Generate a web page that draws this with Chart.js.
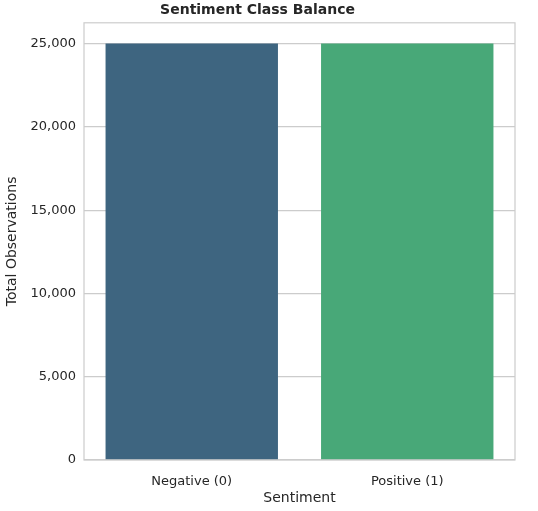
<!DOCTYPE html>
<html>
<head>
<script src="https://cdn.jsdelivr.net/npm/chart.js@4"></script>
<style>
  body { margin: 0; background: #fff; }
  #wrap { width: 538px; height: 511px; }
</style>
</head>
<body>
<div id="wrap"><canvas id="chart"></canvas></div>
<script>
// class counts
const categories = ["Negative (0)", "Positive (1)"];
const counts = [25000, 25000];
const barColors = ["#3e6580", "#48a878"];
const yTicks = [0, 5000, 10000, 15000, 20000, 25000];

const frame = {
  id: "frame",
  afterDraw(chart) {
    const a = chart.chartArea, c = chart.ctx;
    c.save();
    c.strokeStyle = "#cccccc";
    c.lineWidth = 1.2;
    c.strokeRect(a.left, a.top, a.right - a.left, a.bottom - a.top);
    c.restore();
  }
};

Chart.defaults.font.family = "'DejaVu Sans', Arial, sans-serif";
Chart.defaults.color = "#262626";

new Chart(document.getElementById("chart"), {
  type: "bar",
  data: {
    labels: categories,
    datasets: [{
      data: counts,
      backgroundColor: barColors,
      barPercentage: 0.8,
      categoryPercentage: 1
    }]
  },
  options: {
    responsive: true,
    maintainAspectRatio: false,
    animation: false,
    layout: { padding: { left: 0, right: 23, top: 0, bottom: 0 } },
    plugins: {
      legend: { display: false },
      tooltip: { enabled: false },
      title: {
        display: true,
        text: "Sentiment Class Balance",
        font: { size: 14 },
        color: "#262626",
        padding: { top: 2, bottom: 4 }
      }
    },
    scales: {
      x: {
        grid: { display: false },
        border: { display: false },
        ticks: { font: { size: 13 }, padding: 6 },
        title: { display: true, text: "Sentiment", font: { size: 14 }, padding: { top: 2 } },
        afterFit(s) { s.height = 51; }
      },
      y: {
        min: 0,
        max: 26250,
        afterBuildTicks(s) { s.ticks = yTicks.map(v => ({ value: v })); },
        grid: { color: "#cccccc", lineWidth: 1.2, drawTicks: false },
        border: { display: false },
        ticks: { font: { size: 13 }, padding: 8 },
        title: { display: true, text: "Total Observations", font: { size: 14 } },
        afterFit(s) { s.width = 84; }
      }
    }
  },
  plugins: [frame]
});
</script>
</body>
</html>
